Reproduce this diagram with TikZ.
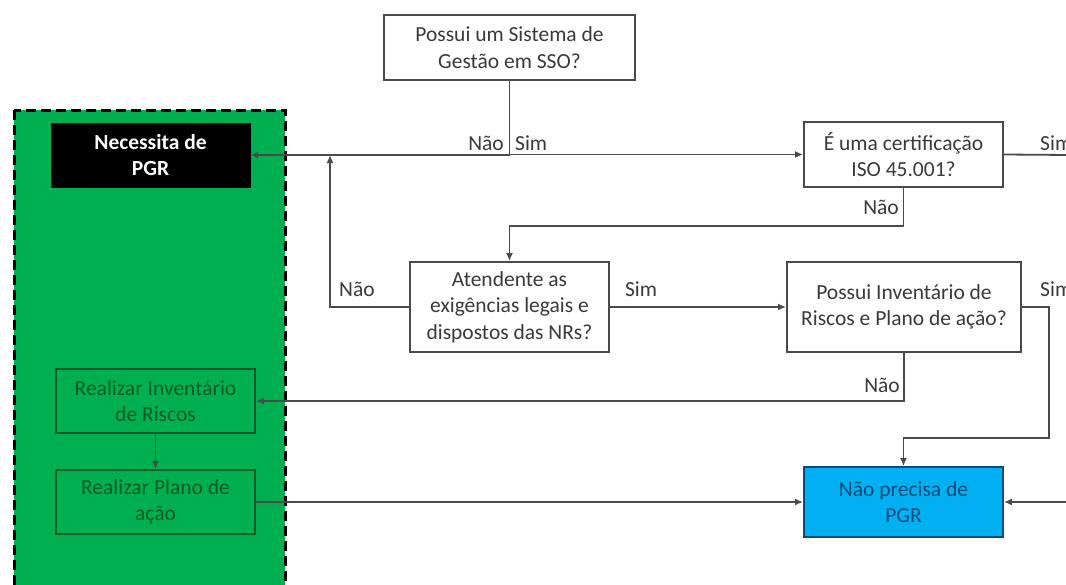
\documentclass[tikz,border=0pt]{standalone}
\usepackage{fontspec}
\setmainfont{Carlito}
\usetikzlibrary{arrows.meta}
\definecolor{linec}{HTML}{4A4A4A}
\definecolor{txtc}{HTML}{3A3A3A}
\definecolor{greenf}{HTML}{00B050}
\definecolor{greend}{HTML}{0A5A25}
\definecolor{bluef}{HTML}{00B0F0}
\definecolor{blued}{HTML}{0B4A7A}
\begin{document}
\begin{tikzpicture}[x=1pt,y=-1pt,
  every node/.style={font=\fontsize{21.5}{26.5}\selectfont, align=center, inner sep=0pt},
  box/.style={draw=linec, line width=1.8pt, fill=white, text=txtc},
  gbox/.style={draw=greend, line width=1.8pt, fill=greenf, text=greend},
  lbl/.style={text=txtc},
  conn/.style={draw=linec, line width=1.8pt},
  arr/.style={conn, -{Latex[length=8pt,width=7pt]}}]
\useasboundingbox (0,0) rectangle (1066,584);
\fill[white] (0,0) rectangle (1066,584);
% green dashed region
\draw[fill=greenf, draw=black, line width=3pt, dash pattern=on 10pt off 5pt] (14,110) rectangle (285,600);
% nodes
\node[box, minimum width=251pt, minimum height=65pt] (sso) at (509.5,47.5) {Possui um Sistema de\\Gestão em SSO?};
\node[draw=black, fill=black, text=white, font=\fontsize{21.5}{26.5}\selectfont\bfseries, minimum width=199pt, minimum height=64pt] (nec) at (150.5,155) {Necessita de\\PGR};
\node[box, minimum width=199pt, minimum height=65pt] (iso) at (903.5,154.5) {É uma certificação\\ISO 45.001?};
\node[box, minimum width=199pt, minimum height=90pt] (ate) at (509.5,307) {Atendente as\\exigências legais e\\dispostos das NRs?};
\node[box, minimum width=234pt, minimum height=90pt] (inv) at (904,307) {Possui Inventário de\\Riscos e Plano de ação?};
\node[gbox, minimum width=199pt, minimum height=64pt] (rinv) at (155.5,401) {Realizar Inventário\\de Riscos};
\node[gbox, minimum width=199pt, minimum height=64pt] (rpla) at (155.5,502) {Realizar Plano de\\ação};
\node[draw=blued, line width=1.8pt, fill=bluef, text=blued, minimum width=199pt, minimum height=70pt] (nao) at (903.5,502) {Não precisa de\\PGR};
% free-end coordinates
\coordinate (isoout) at (1070,155);
\coordinate (naoin) at (1070,502);
\coordinate (jup) at (330,155);
% connectors
\draw[arr] (sso.south) |- (nec.east);
\draw[arr] (sso.south) |- (iso.west);
\draw[conn] (iso.east) -- (isoout);
\draw[arr] (iso.south) -- ++(0,38) -| (ate.north);
\draw[arr] (ate.east) -- (inv.west);
\draw[arr] (ate.west) -| (jup);
\draw[arr] (inv.east) -- ++(27,0) -- ++(0,131) -| (nao.north);
\draw[arr] (inv.south) |- (rinv.east);
\draw[arr] (rinv.south) -- (rpla.north);
\draw[arr] (rpla.east) -- (nao.west);
\draw[arr] (naoin) -- (nao.east);
% labels
\node[lbl, anchor=east] (l1) at (504,143) {Não};
\node[lbl, anchor=west] (l2) at (515,143) {Sim};
\node[lbl, anchor=west] (l3) at (1040,143) {Sim};
\node[lbl, anchor=east] (l4) at (899,207) {Não};
\node[lbl] (l5) at (357,289) {Não};
\node[lbl] (l6) at (641,289) {Sim};
\node[lbl, anchor=west] (l7) at (1040,289) {Sim};
\node[lbl, anchor=east] (l8) at (900,385) {Não};
\end{tikzpicture}
\end{document}
